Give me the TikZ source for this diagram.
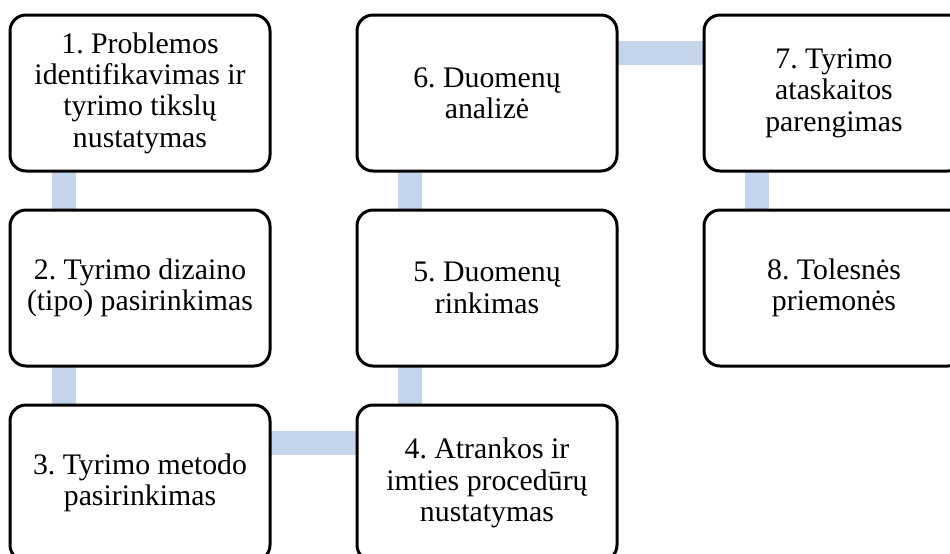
\documentclass[tikz,border=0pt]{standalone}
\usepackage{fontspec}
\setmainfont{Liberation Serif}
\usepackage{tikz}
\usetikzlibrary{positioning, backgrounds}
\usepackage{xcolor}
\definecolor{linkblue}{RGB}{196, 213, 235}
\frenchspacing

\begin{document}
\begin{tikzpicture}[
  box/.style={draw, line width=1.5pt, rounded corners=8pt, fill=white,
              minimum width=130pt, minimum height=78pt, align=center,
              inner sep=2pt, outer sep=0pt,
              font=\fontsize{14.9pt}{15.7pt}\selectfont},
  link/.style={line width=12pt, draw=linkblue},
  node distance=19.5pt and 43.5pt
]
  \useasboundingbox (0,0) rectangle (475pt,-276.5pt);
  \clip (0,0) rectangle (475pt,-276.5pt);
  % first column, top to bottom
  \node[box, anchor=north west] (s1) at (5pt,-7.5pt)
    {1. Problemos\\identifikavimas ir\\tyrimo tikslų\\nustatymas};
  \node[box, below=of s1] (s2) {2. Tyrimo dizaino\\(tipo) pasirinkimas};
  \node[box, below=of s2] (s3) {3. Tyrimo metodo\\pasirinkimas};
  % second column, bottom to top
  \node[box, right=of s3] (s4) {4. Atrankos ir\\imties procedūrų\\nustatymas};
  \node[box, above=of s4] (s5) {5. Duomenų\\rinkimas};
  \node[box, above=of s5] (s6) {6. Duomenų\\analizė};
  % third column
  \node[box, right=of s6] (s7) {7. Tyrimo\\ataskaitos\\parengimas};
  \node[box, below=of s7] (s8) {8. Tolesnės\\priemonės};
  \begin{scope}[on background layer]
    \draw[link] ([xshift=27pt]s1.south west) -- ([xshift=27pt]s2.north west);
    \draw[link] ([xshift=27pt]s2.south west) -- ([xshift=27pt]s3.north west);
    \draw[link] ([yshift=-19pt]s3.north east) -- ([yshift=-19pt]s4.north west);
    \draw[link] ([xshift=26.5pt]s4.north west) -- ([xshift=26.5pt]s5.south west);
    \draw[link] ([xshift=26.5pt]s5.north west) -- ([xshift=26.5pt]s6.south west);
    \draw[link] ([yshift=-18.75pt]s6.north east) -- ([yshift=-18.75pt]s7.north west);
    \draw[link] ([xshift=26.5pt]s7.south west) -- ([xshift=26.5pt]s8.north west);
  \end{scope}
\end{tikzpicture}
\end{document}
